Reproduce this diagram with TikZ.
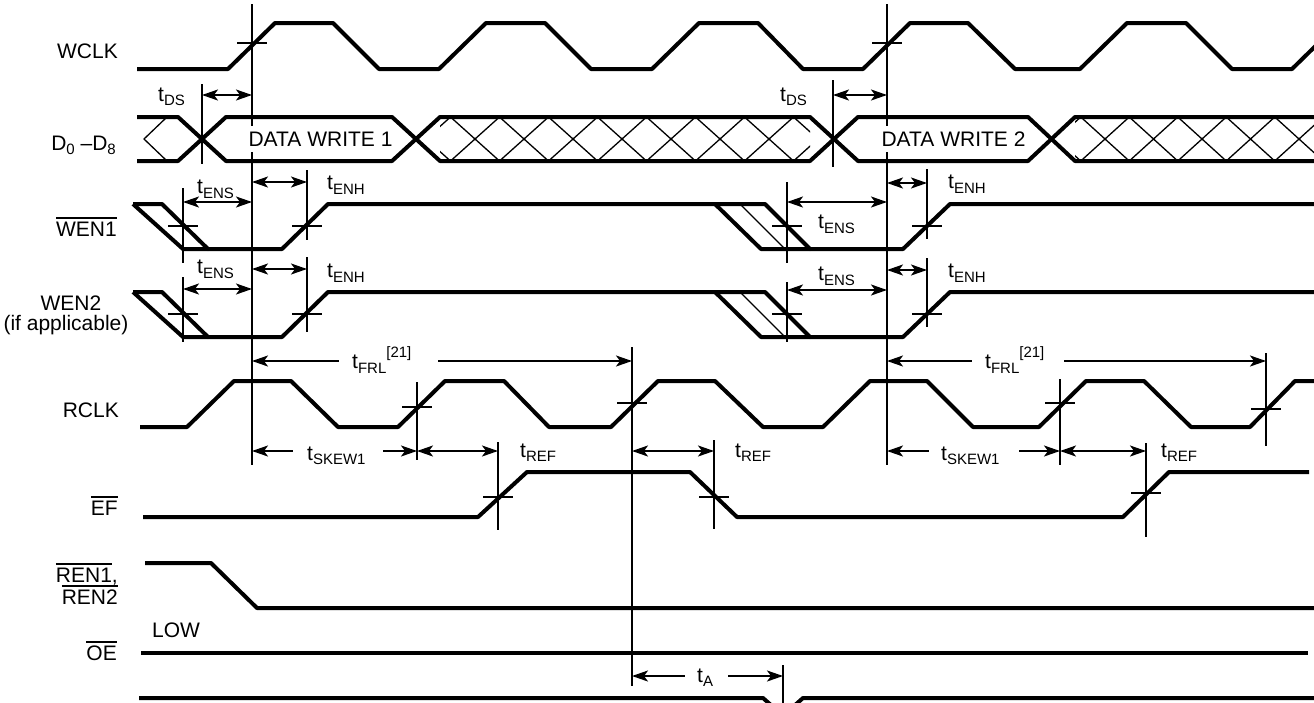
\documentclass[tikz,border=0pt]{standalone}
\usepackage{fontspec}
\setmainfont{Liberation Sans}
\usetikzlibrary{arrows.meta}
\newcommand\tlab[1]{t\raisebox{-4.5pt}{\fontsize{15}{15}\selectfont #1}}
\newcommand\sml[1]{\raisebox{-4pt}{\fontsize{15}{15}\selectfont #1}}
\newcommand\ovl[1]{\setbox0\hbox{#1}\rlap{\rule[17pt]{\wd0}{1.7pt}}\box0}

\begin{document}
\begin{tikzpicture}[line cap=butt,line join=round,x=1pt,y=-1pt,
  >={Stealth[length=16pt,width=11pt,inset=4pt]},
  font=\fontsize{21}{25}\selectfont,
  sig/.style={line width=4pt},
  vline/.style={line width=1.9pt},
  hatch/.style={line width=1.3pt},
  dim/.style={line width=1.9pt,<->},
  lbl/.style={inner sep=0pt,anchor=base east},
  tl/.style={inner sep=0pt,anchor=base west}]
\useasboundingbox[fill=white] (0,0) rectangle (1314,702);
% signal names
\node[lbl] (wclk) at (118,58) {WCLK};
\node[lbl] (dbus) at (116,150) {D\sml{0} --D\sml{8}};
\node[lbl] (wen1) at (117,236) {\ovl{WEN1}};
\node[inner sep=0pt,anchor=base] (wen2) at (71,310) {WEN2};
\node[inner sep=0pt,anchor=base] (wen2b) at (66,330) {(if applicable)};
\node[lbl] (rclk) at (119,417) {RCLK};
\node[lbl] (ef) at (118,515) {\ovl{EF}};
\node[lbl] (ren1) at (118,582) {\ovl{REN1},};
\node[lbl] (ren2) at (118,604) {\ovl{REN2}};
\node[tl] (low) at (152,637) {LOW};
\node[lbl] (oe) at (117,660) {\ovl{OE}};
% hatched bus
\begin{scope}
\clip (440,117) rectangle (810,161);
\foreach \c in {426,475,...,820}
  \draw[hatch] ({\c-24.5},117)--({\c+24.5},161) ({\c-24.5},161)--({\c+24.5},117);
\end{scope}
\begin{scope}
\clip (1075,117) rectangle (1320,161);
\foreach \c in {1056.5,1105,...,1350}
  \draw[hatch] ({\c-24.25},117)--({\c+24.25},161) ({\c-24.25},161)--({\c+24.25},117);
\end{scope}
\draw[hatch] (167,117)--(144,139)--(167,161);
% waveforms
\draw[sig] (137,69)--(228,69)--(275,23)--(333,23)--(379,69)--(439,69)--(486,23)--(545,23)--(591,69)--(652,69)--(699,23)--(758,23)--(803,69)--(863,69)--(910,23)--(968,23)--(1015,69)--(1080,69)--(1127,23)--(1186,23)--(1232,69)--(1292,69)--(1339,23);
\draw[sig] (137,117)--(178,117)--(226,161)--(392,161)--(440,117)--(810,117)--(858,161)--(1028,161)--(1075,117)--(1320,117);
\draw[sig] (137,161)--(178,161)--(226,117)--(392,117)--(440,161)--(810,161)--(858,117)--(1028,117)--(1075,161)--(1320,161);
\foreach \y in {204,292}{
  \draw[sig] (133,\y)--(162,\y)--(208,\y+45)--(282,\y+45)--(328,\y)--(765,\y)--(810,\y+45)--(903,\y+45)--(950,\y)--(1320,\y);
  \draw[sig] (133,\y)--(183,\y+45)--(208,\y+45);
  \draw[sig] (715,\y)--(761,\y+45)--(810,\y+45);
  \draw[hatch] (740,\y)--(785,\y+45);
}
\draw[sig] (140,427)--(187,427)--(234,381)--(291,381)--(338,427)--(398,427)--(445,381)--(504,381)--(549,427)--(611,427)--(658,381)--(715,381)--(763,427)--(823,427)--(870,381)--(927,381)--(973,427)--(1039,427)--(1086,381)--(1144,381)--(1191,427)--(1250,427)--(1295,381)--(1320,381);
\draw[sig] (143,517)--(478,517)--(527,472)--(690,472)--(737,517)--(1123,517)--(1169,472)--(1309,472);
\draw[sig] (145,563)--(211,563)--(257,608)--(1320,608);
\draw[sig] (141,653)--(1308,653);
\draw[sig] (139,698)--(763,698)--(772,706);
\draw[sig] (794,706)--(803,698)--(1320,698);
% reference lines and ticks
\foreach \x/\a/\b in {252/4/465,887/4/465,632/347/686,202/84/164,833/80/167,
    183/188/263,183/277/342,307/170/240,307/257/332,787/182/263,787/282/342,
    927/169/239,927/258/327,417/382/460,1060/379/465,1266/353/446,
    498/442/530,714/440/529,1146/443/537,783/665/705}
  \draw[vline] (\x,\a)--(\x,\b);
\foreach \x/\y in {252/43,887/43,183/226,307/226,787/226,927/226,183/314,307/314,
    787/314,927/314,417/407,632/403,1060/403,1266/409,498/497,714/497,1146/493}
  \draw[vline] (\x-15,\y)--(\x+15,\y);
% data labels
\node[fill=white,inner xsep=1pt,inner ysep=6pt] (dw1) at (320.5,139) {DATA WRITE 1};
\node[fill=white,inner xsep=1pt,inner ysep=6pt] (dw2) at (953.5,139) {DATA WRITE 2};
% timing arrows
\draw[dim] (202,95)--(252,95);
\draw[dim] (833,95)--(887,95);
\draw[dim] (183,202)--(252,202);
\draw[dim] (252,182)--(307,182);
\draw[dim] (183,289)--(252,289);
\draw[dim] (252,269)--(307,269);
\draw[dim] (787,202)--(887,202);
\draw[dim] (887,183)--(927,183);
\draw[dim] (787,290)--(887,290);
\draw[dim] (887,270)--(927,270);
\draw[vline,<-] (252,361)--(339,361);
\draw[vline,->] (438,361)--(632,361);
\draw[vline,<-] (887,361)--(972,361);
\draw[vline,->] (1064,361)--(1266,361);
\draw[vline,<-] (252,451)--(293,451);
\draw[vline,->] (383,451)--(417,451);
\draw[dim] (417,451)--(498,451);
\draw[dim] (632,451)--(714,451);
\draw[vline,<-] (887,451)--(929,451);
\draw[vline,->] (1019,451)--(1060,451);
\draw[dim] (1060,451)--(1146,451);
\draw[vline,<-] (632,676)--(685,676);
\draw[vline,->] (728,676)--(783,676);
% timing names
\node[tl] (ds1) at (158,101) {\tlab{DS}};
\node[tl] (ds2) at (780,101) {\tlab{DS}};
\node[tl] (ens1) at (197,193.5) {\tlab{ENS}};
\node[tl] (enh1) at (327,189.5) {\tlab{ENH}};
\node[tl] (ens2) at (197,273.5) {\tlab{ENS}};
\node[tl] (enh2) at (327,277.5) {\tlab{ENH}};
\node[tl] (ens3) at (818,228.5) {\tlab{ENS}};
\node[tl] (enh3) at (948,188.5) {\tlab{ENH}};
\node[tl] (ens4) at (818,280.5) {\tlab{ENS}};
\node[tl] (enh4) at (948,277.5) {\tlab{ENH}};
\node[tl] (frl1) at (352,368.5) {\tlab{FRL}\raisebox{11pt}{\fontsize{15}{15}\selectfont [21]}};
\node[tl] (frl2) at (985,368.5) {\tlab{FRL}\raisebox{11pt}{\fontsize{15}{15}\selectfont [21]}};
\node[tl] (skew1) at (307,460) {\tlab{SKEW1}};
\node[tl] (skew2) at (941,460) {\tlab{SKEW1}};
\node[tl] (ref1) at (520,457) {\tlab{REF}};
\node[tl] (ref2) at (735,457) {\tlab{REF}};
\node[tl] (ref3) at (1161,457) {\tlab{REF}};
\node[tl] (ta) at (697,682) {\tlab{A}};
\end{tikzpicture}
\end{document}
